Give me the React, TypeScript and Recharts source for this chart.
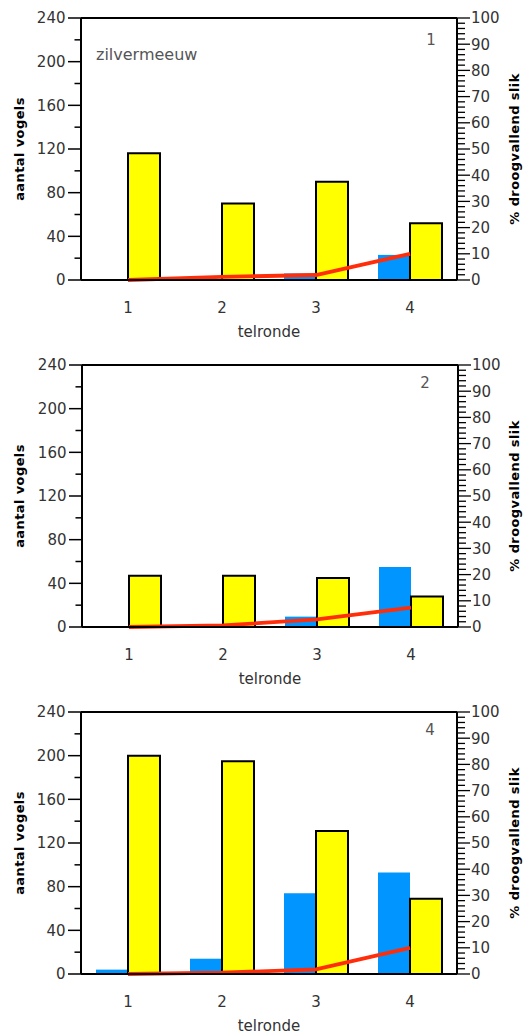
import React from 'react';
import { ComposedChart, Bar, Line, XAxis, YAxis, ReferenceLine } from 'recharts';

// categories
const rounds = ['1', '2', '3', '4'];
const panelNumbers = ['1', '2', '4'];
const speciesName = 'zilvermeeuw';
const xTitle = 'telronde';
const leftTitle = 'aantal vogels';
const rightTitle = '% droogvallend slik';

// panel 1
const blue1 = [0, 0, 6, 23];
const yellow1 = [116, 70, 90, 52];
const pct1 = [0, 1.2, 1.9, 10];
// panel 2
const blue2 = [0, 0, 9.5, 55];
const yellow2 = [47, 47, 45, 28];
const pct2 = [0, 0.6, 2.9, 7.4];
// panel 3
const blue3 = [4, 14, 74, 93];
const yellow3 = [200, 195, 131, 69];
const pct3 = [0, 0.5, 1.8, 10];

// ticks
const leftTicks = [0, 20, 40, 60, 80, 100, 120, 140, 160, 180, 200, 220, 240];
const leftMajor = [0, 40, 80, 120, 160, 200, 240];
const rightTicks = [
  0, 2, 4, 6, 8, 10, 12, 14, 16, 18, 20, 22, 24, 26, 28, 30, 32, 34, 36, 38, 40,
  42, 44, 46, 48, 50, 52, 54, 56, 58, 60, 62, 64, 66, 68, 70, 72, 74, 76, 78, 80,
  82, 84, 86, 88, 90, 92, 94, 96, 98, 100,
];
const rightMajor = [0, 10, 20, 30, 40, 50, 60, 70, 80, 90, 100];

const FONT = 'DejaVu Sans';
const BLUE = '#0095FF';
const YELLOW = '#FFFF00';
const RED = '#FF2D0A';

const makeData = (b: number[], y: number[], p: number[]) =>
  rounds.map((r, i) => ({ round: r, blue: b[i], yellow: y[i], pct: p[i] }));

const panels = [
  { top: 0, lw: 81, rw: 68, data: makeData(blue1, yellow1, pct1), numX: 431, numDy: 27 },
  { top: 347, lw: 82, rw: 67, data: makeData(blue2, yellow2, pct2), numX: 425, numDy: 23 },
  { top: 694, lw: 81, rw: 68, data: makeData(blue3, yellow3, pct3), numX: 430, numDy: 23 },
];

const LeftTick = (props: any) => {
  const { x, y, payload } = props;
  const v = payload.value;
  const major = leftMajor.includes(v);
  const len = major ? 13 : 6.5;
  return (
    <g>
      <line x1={x - len} y1={y} x2={x} y2={y} stroke="#000" strokeWidth={1.5} />
      {major && (
        <text x={x - len - 2.5} y={y} dy="0.36em" textAnchor="end" fontSize={15} fontFamily={FONT} fill="#333">
          {v}
        </text>
      )}
    </g>
  );
};

const RightTick = (props: any) => {
  const { x, y, payload } = props;
  const v = payload.value;
  const major = rightMajor.includes(v);
  const len = major ? 13 : 8;
  return (
    <g>
      <line x1={x} y1={y} x2={x + len} y2={y} stroke="#000" strokeWidth={1.3} />
      {major && (
        <text x={x + 14} y={y} dy="0.36em" textAnchor="start" fontSize={15} fontFamily={FONT} fill="#333">
          {v}
        </text>
      )}
    </g>
  );
};

const XTick = (props: any) => {
  const { x, y, payload } = props;
  return (
    <text x={x} y={y + 32.5} textAnchor="middle" fontSize={15} fontFamily={FONT} fill="#333">
      {payload.value}
    </text>
  );
};

function Panel({ p }: { p: (typeof panels)[number] }) {
  return (
    <div style={{ position: 'absolute', left: 0, top: p.top, width: 525, height: 340 }}>
      <ComposedChart
        width={525}
        height={340}
        data={p.data}
        margin={{ top: 18, right: 0, bottom: 0, left: 0 }}
        barGap={0}
      >
        <XAxis
          dataKey="round"
          height={60}
          tickLine={false}
          tickSize={0}
          tickMargin={0}
          axisLine={{ stroke: '#000', strokeWidth: 2 }}
          tick={XTick}
          interval={0}
        />
        <YAxis
          yAxisId="left"
          orientation="left"
          width={p.lw}
          domain={[0, 240]}
          ticks={leftTicks}
          interval={0}
          tickLine={false}
          tickSize={0}
          tickMargin={0}
          axisLine={{ stroke: '#000', strokeWidth: 2 }}
          tick={LeftTick}
        />
        <YAxis
          yAxisId="right"
          orientation="right"
          width={p.rw}
          domain={[0, 100]}
          ticks={rightTicks}
          interval={0}
          tickLine={false}
          tickSize={0}
          tickMargin={0}
          axisLine={{ stroke: '#000', strokeWidth: 2 }}
          tick={RightTick}
        />
        <ReferenceLine yAxisId="left" y={240} stroke="#000" strokeWidth={2} />
        <Bar yAxisId="left" dataKey="blue" fill={BLUE} barSize={32} isAnimationActive={false} />
        <Bar
          yAxisId="left"
          dataKey="yellow"
          fill={YELLOW}
          stroke="#000"
          strokeWidth={2}
          barSize={32}
          isAnimationActive={false}
        />
        <Line
          yAxisId="right"
          dataKey="pct"
          type="linear"
          stroke={RED}
          strokeWidth={3.8}
          dot={false}
          activeDot={false}
          isAnimationActive={false}
        />
      </ComposedChart>
    </div>
  );
}

export default function App() {
  return (
    <div style={{ position: 'absolute', left: 0, top: 0, width: 525, height: 1035, overflow: 'hidden', background: '#fff' }}>
      {panels.map((p, i) => (
        <Panel key={i} p={p} />
      ))}
      <svg
        width={525}
        height={1035}
        style={{ position: 'absolute', left: 0, top: 0, pointerEvents: 'none' }}
      >
        {panels.map((p, i) => {
          const plotTop = p.top + 18;
          const plotBottom = p.top + 280;
          const cy = (plotTop + plotBottom) / 2;
          const plotLeft = p.lw;
          const plotRight = 525 - p.rw;
          return (
            <g key={i}>
              <text
                transform={`translate(19, ${cy}) rotate(-90)`}
                textAnchor="middle"
                dominantBaseline="central"
                fontSize={13}
                fontWeight="bold"
                letterSpacing={0.4}
                fontFamily={FONT}
                fill="#000"
              >
                {leftTitle}
              </text>
              <text
                transform={`translate(514, ${cy}) rotate(-90)`}
                textAnchor="middle"
                dominantBaseline="central"
                fontSize={13}
                fontWeight="bold"
                letterSpacing={0.4}
                fontFamily={FONT}
                fill="#000"
              >
                {rightTitle}
              </text>
              <text
                x={(plotLeft + plotRight) / 2}
                y={plotBottom + 57}
                textAnchor="middle"
                fontSize={15}
                fontFamily={FONT}
                fill="#333"
              >
                {xTitle}
              </text>
              <text x={p.numX} y={plotTop + p.numDy} textAnchor="middle" fontSize={15} fontFamily={FONT} fill="#555">
                {panelNumbers[i]}
              </text>
              {i === 0 && (
                <text x={96} y={60} fontSize={16} fontFamily={FONT} fill="#555">
                  {speciesName}
                </text>
              )}
            </g>
          );
        })}
      </svg>
    </div>
  );
}
